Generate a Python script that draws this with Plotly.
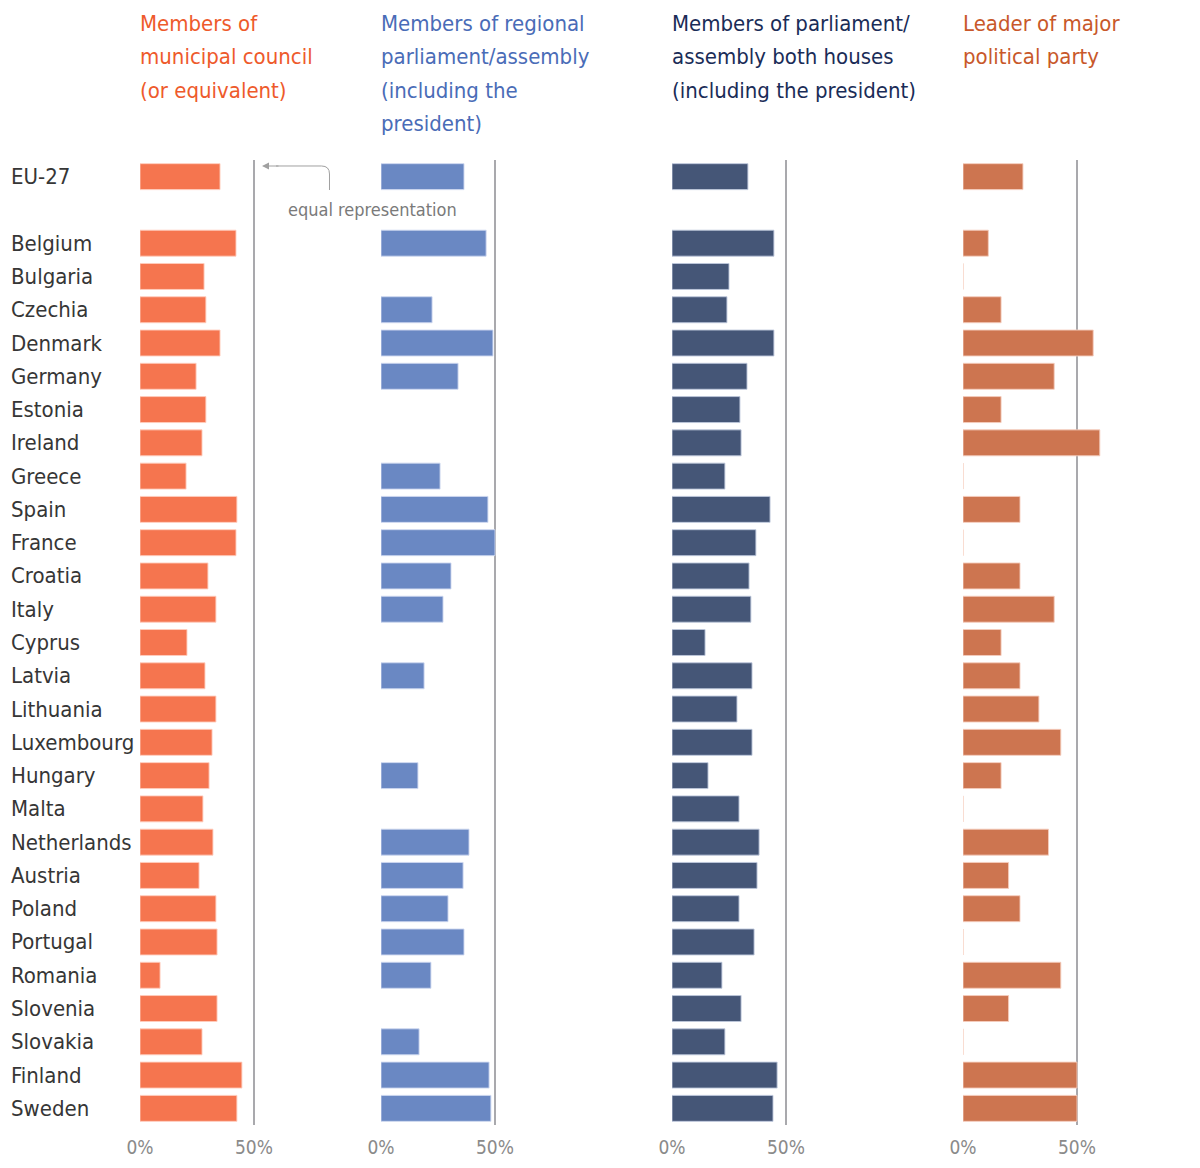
import plotly.graph_objects as go

countries = ["EU-27", "Belgium", "Bulgaria", "Czechia", "Denmark", "Germany", "Estonia",
             "Ireland", "Greece", "Spain", "France", "Croatia", "Italy", "Cyprus", "Latvia",
             "Lithuania", "Luxembourg", "Hungary", "Malta", "Netherlands", "Austria",
             "Poland", "Portugal", "Romania", "Slovenia", "Slovakia", "Finland", "Sweden"]

municipal = [35.1, 42.1, 28.1, 28.9, 35.1, 24.6, 28.9, 27.2, 20.2, 42.5, 42.1, 29.8, 33.3,
             20.6, 28.5, 33.3, 31.6, 30.3, 27.6, 32.0, 25.9, 33.3, 33.8, 8.8, 33.8, 27.2,
             44.7, 42.5]
regional = [36.4, 46.1, None, 22.4, 49.1, 33.8, None, None, 25.9, 46.9, 50.0, 30.7, 27.2,
            None, 18.9, None, None, 16.2, None, 38.6, 36.0, 29.4, 36.4, 21.9, None, 16.7,
            47.4, 48.2]
parliament = [33.3, 44.7, 25.0, 24.1, 44.7, 32.9, 29.8, 30.3, 23.2, 43.0, 36.8, 33.8, 34.6,
              14.5, 35.1, 28.5, 35.1, 15.8, 29.4, 38.2, 37.3, 29.4, 36.0, 21.9, 30.3, 23.2,
              46.1, 44.3]
party_leader = [26.3, 11.1, 0, 16.7, 57.1, 40.0, 16.7, 60.0, 0, 25.0, 0, 25.0, 40.0, 16.7,
                25.0, 33.3, 42.9, 16.7, 0, 37.5, 20.0, 25.0, 0, 42.9, 20.0, 0, 50.0, 50.0]

titles = [
    ["Members of", "municipal council", "(or equivalent)"],
    ["Members of regional", "parliament/assembly", "(including the", "president)"],
    ["Members of parliament/", "assembly both houses", "(including the president)"],
    ["Leader of major", "political party"],
]
series = [municipal, regional, parliament, party_leader]
bar_colors = ["#F5754F", "#6A88C3", "#455677", "#CD7550"]
bar_lines = ["rgba(255,205,190,0.9)", "rgba(205,215,240,0.9)", "rgba(190,200,220,0.9)",
             "rgba(245,205,190,0.9)"]
title_colors = ["#EE5A2B", "#4A6CB7", "#1A2C57", "#C8582A"]
tick_vals = [0, 50]
tick_text = ["0%", "50%"]
equal_line = 50

W, H = 1200, 1168
FONT = "DejaVu Sans Condensed, DejaVu Sans, sans-serif"
panel_left_px = [140, 381, 672, 963]
px_per_pct = 2.28
xmax = 62
plot_top, plot_bottom = 160, 1125

category_order = [countries[0], " "] + countries[1:]

fig = go.Figure()
layout_axes = {}
shapes = []
annotations = []

for i, (vals, col) in enumerate(zip(series, bar_colors)):
    ax_id = "" if i == 0 else str(i + 1)
    fig.add_trace(go.Bar(
        x=vals, y=countries, orientation="h",
        marker=dict(color=col, line=dict(color=bar_lines[i], width=1)),
        width=0.78, xaxis="x" + ax_id, yaxis="y" + ax_id,
        showlegend=False, hoverinfo="x+y",
    ))
    left = panel_left_px[i]
    right = left + xmax * px_per_pct
    layout_axes["xaxis" + ax_id] = dict(
        domain=[left / W, right / W], range=[0, xmax],
        tickvals=tick_vals, ticktext=tick_text, showgrid=False, zeroline=False,
        showline=False, ticks="outside", ticklen=5, tickcolor="rgba(0,0,0,0)",
        tickfont=dict(family=FONT, size=19, color="#8A8A8A"), anchor="y" + ax_id,
        fixedrange=True, automargin=False,
    )
    layout_axes["yaxis" + ax_id] = dict(
        domain=[1 - plot_bottom / H, 1 - plot_top / H],
        type="category", categoryorder="array", categoryarray=category_order,
        range=[len(category_order) - 0.5, -0.5], showticklabels=False,
        showgrid=False, zeroline=False, showline=False, anchor="x" + ax_id,
        fixedrange=True, automargin=False,
    )
    shapes.append(dict(
        type="line", xref="x" + ax_id, yref="y" + ax_id + " domain",
        x0=equal_line, x1=equal_line, y0=0, y1=1,
        line=dict(color="#A9A9AD", width=2), layer="below",
    ))
    for j, line in enumerate(titles[i]):
        annotations.append(dict(
            text=line, xref="paper", yref="paper", x=left / W - 0.002,
            y=1 - (24 + 33 * j) / H, xanchor="left", yanchor="middle",
            showarrow=False, font=dict(family=FONT, size=22, color=title_colors[i]),
        ))

for c in countries:
    annotations.append(dict(
        text=c, xref="paper", yref="y", x=9 / W, y=c, xanchor="left", yanchor="middle",
        showarrow=False, font=dict(family=FONT, size=22, color="#363636"),
    ))

# equal representation callout
annotations.append(dict(
    text="equal representation", xref="paper", yref="paper",
    x=372 / W, y=1 - 209 / H, xanchor="center", yanchor="middle", showarrow=False,
    font=dict(family=FONT, size=18, color="#7A7A7A"),
))
annotations.append(dict(
    text="", xref="paper", yref="paper", x=262 / W, y=1 - 166 / H,
    ax=18, ay=0, axref="pixel", ayref="pixel", showarrow=True,
    arrowhead=2, arrowsize=1.4, arrowwidth=1, arrowcolor="#A0A0A0",
))
def P(x, y):
    return f"{x / W:.5f},{1 - y / H:.5f}"
shapes.append(dict(
    type="path", xref="paper", yref="paper",
    path=f"M {P(329.5, 190)} L {P(329.5, 174)} Q {P(329.5, 166)} {P(321.5, 166)} L {P(276, 166)}",
    line=dict(color="#A0A0A0", width=1),
))

fig.update_layout(
    width=W, height=H, margin=dict(l=0, r=0, t=0, b=0, pad=0, autoexpand=False),
    paper_bgcolor="white", plot_bgcolor="white",
    shapes=shapes, annotations=annotations, bargap=0.2,
    **layout_axes,
)
fig.write_html("out.html")
